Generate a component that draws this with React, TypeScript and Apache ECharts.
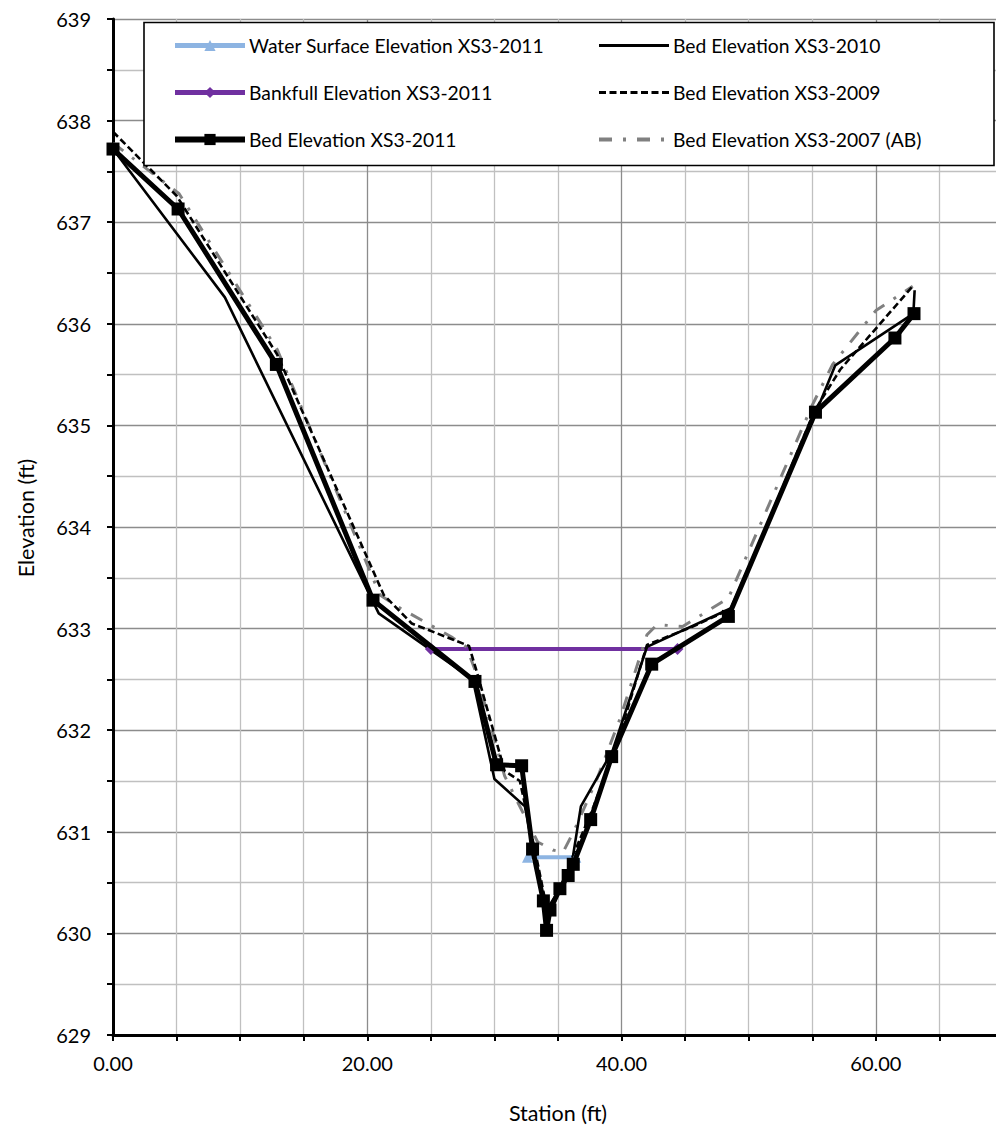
import React, { useEffect, useRef } from "react";
import * as echarts from "echarts";

// ---- data (Station ft, Elevation ft) ----
const bankfullX = [25.0, 44.4];
const bankfullY = [632.8, 632.8];

const waterX = [32.6, 36.4];
const waterY = [630.75, 630.75];

const bed2011X = [0, 5.12, 12.85, 20.45, 28.47, 30.17, 32.14, 33.0, 33.85, 34.1, 34.37, 35.15, 35.8, 36.2, 37.57, 39.22, 42.37, 48.4, 55.25, 61.5, 63.0];
const bed2011Y = [637.72, 637.13, 635.6, 633.28, 632.48, 631.66, 631.65, 630.83, 630.32, 630.03, 630.23, 630.44, 630.57, 630.68, 631.12, 631.74, 632.65, 633.12, 635.13, 635.86, 636.1];

const bed2010X = [0, 8.8, 20.9, 28.3, 30.0, 32.4, 33.0, 33.8, 34.2, 35.2, 36.0, 36.8, 39.3, 42.0, 48.6, 55.2, 56.8, 62.95, 63.05];
const bed2010Y = [637.72, 636.26, 633.15, 632.5, 631.52, 631.25, 630.85, 630.35, 630.25, 630.45, 630.62, 631.25, 631.8, 632.82, 633.2, 635.1, 635.59, 636.1, 636.33];

const bed2009X = [0, 5.0, 12.9, 16.8, 21.3, 23.5, 28.0, 28.6, 30.8, 32.0, 33.3, 34.2, 34.7, 35.5, 36.3, 37.8, 39.6, 42.0, 45.6, 48.7, 55.2, 57.2, 62.9];
const bed2009Y = [637.89, 637.26, 635.7, 634.6, 633.33, 633.05, 632.83, 632.58, 631.6, 631.5, 630.75, 630.2, 630.3, 630.55, 630.8, 631.25, 631.85, 632.84, 633.02, 633.2, 635.15, 635.55, 636.37];

const bed2007X = [0, 5.2, 12.9, 21.0, 22.6, 26.6, 27.8, 28.6, 30.8, 32.4, 33.4, 34.6, 35.4, 36.3, 38.0, 39.9, 42.0, 42.8, 44.8, 48.4, 55.0, 56.6, 60.0, 62.9];
const bed2007Y = [637.78, 637.28, 635.75, 633.33, 633.2, 632.92, 632.82, 632.55, 631.55, 631.15, 630.9, 630.82, 630.8, 631.02, 631.5, 632.12, 632.94, 633.04, 633.02, 633.3, 635.2, 635.6, 636.13, 636.37];

const seriesNames = [
  "Water Surface Elevation XS3-2011",
  "Bankfull Elevation XS3-2011",
  "Bed Elevation XS3-2011",
  "Bed Elevation XS3-2010",
  "Bed Elevation XS3-2009",
  "Bed Elevation XS3-2007 (AB)",
];

const xAxisTitle = "Station (ft)";
const yAxisTitle = "Elevation (ft)";

const zip = (xs: number[], ys: number[]) => xs.map((x, i) => [x, ys[i]]);

const FONT = "Lato";

export default function App() {
  const ref = useRef<HTMLDivElement>(null);

  useEffect(() => {
    if (!ref.current) return;
    const chart = echarts.init(ref.current, undefined, { renderer: "svg" });

    const legendText = { fontFamily: FONT, fontSize: 19.3, color: "#000", padding: [0, 0, 0, -1] };

    const option: any = {
      animation: false,
      backgroundColor: "#ffffff",
      textStyle: { fontFamily: FONT, color: "#000" },
      grid: { left: 113, right: 7, top: 19, bottom: 91, containLabel: false },
      xAxis: {
        type: "value",
        min: 0,
        max: 70,
        interval: 5,
        name: xAxisTitle,
        nameLocation: "middle",
        nameGap: 67,
        nameTextStyle: { fontFamily: FONT, fontSize: 21.5, color: "#000" },
        axisLine: { onZero: false, lineStyle: { color: "#000", width: 3 } },
        axisTick: { show: true, length: 6, lineStyle: { color: "#000", width: 2 } },
        axisLabel: {
          margin: 18,
          fontFamily: FONT,
          fontSize: 20,
          color: "#000",
          formatter: (v: number) => (v % 20 === 0 ? v.toFixed(2) : ""),
        },
        splitLine: {
          show: true,
          lineStyle: { color: ["#8c8c8c", "#c0c0c0", "#c0c0c0", "#c0c0c0"], width: 1.3 },
        },
      },
      yAxis: {
        type: "value",
        min: 629,
        max: 639,
        interval: 0.5,
        name: yAxisTitle,
        nameLocation: "middle",
        nameGap: 76,
        nameTextStyle: { fontFamily: FONT, fontSize: 21.5, color: "#000", padding: [0, 0, 0, 18] },
        axisLine: { show: true, onZero: false, lineStyle: { color: "#000", width: 3 } },
        axisTick: { show: true, length: 6, lineStyle: { color: "#000", width: 2 } },
        axisLabel: {
          margin: 22,
          fontFamily: FONT,
          fontSize: 20,
          color: "#000",
          formatter: (v: number) => (Math.abs(v - Math.round(v)) < 1e-6 ? String(Math.round(v)) : ""),
        },
        splitLine: {
          show: true,
          lineStyle: { color: ["#8c8c8c", "#c0c0c0"], width: 1.3 },
        },
      },
      graphic: [
        {
          type: "rect",
          z: 10,
          shape: { x: 144, y: 22.5, width: 850, height: 143 },
          style: { fill: "#ffffff", stroke: "#000", lineWidth: 1.6 },
          silent: true,
        },
      ],
      legend: [
        {
          orient: "vertical",
          left: 172,
          top: 36,
          padding: 0,
          z: 20,
          itemWidth: 70,
          itemHeight: 14,
          itemGap: 28,
          selectedMode: false,
          textStyle: legendText,
          data: [
            { name: seriesNames[0], lineStyle: { width: 5, cap: "butt" } },
            { name: seriesNames[1], lineStyle: { width: 5, cap: "butt" } },
            { name: seriesNames[2], lineStyle: { width: 6, cap: "butt" } },
          ],
        },
        {
          orient: "vertical",
          left: 597,
          top: 36,
          padding: 0,
          z: 20,
          itemWidth: 70,
          itemHeight: 14,
          itemGap: 28,
          selectedMode: false,
          itemStyle: { opacity: 0 },
          textStyle: legendText,
          data: [
            { name: seriesNames[3], lineStyle: { width: 3, cap: "butt" } },
            { name: seriesNames[4], lineStyle: { width: 3 } },
            { name: seriesNames[5], lineStyle: { width: 4 } },
          ],
        },
      ],
      series: [
        {
          name: seriesNames[1],
          type: "line",
          data: zip(bankfullX, bankfullY),
          symbol: "diamond",
          symbolSize: 12,
          showSymbol: true,
          color: "#7030A0",
          itemStyle: { color: "#7030A0" },
          lineStyle: { color: "#7030A0", width: 4 },
          z: 2,
        },
        {
          name: seriesNames[0],
          type: "line",
          data: zip(waterX, waterY),
          symbol: "triangle",
          symbolSize: 11,
          showSymbol: true,
          color: "#8DB4E2",
          itemStyle: { color: "#8DB4E2" },
          lineStyle: { color: "#8DB4E2", width: 4 },
          z: 2,
        },
        {
          name: seriesNames[5],
          type: "line",
          data: zip(bed2007X, bed2007Y),
          symbol: "none",
          color: "#808080",
          lineStyle: { color: "#808080", width: 3, type: [13, 11, 3, 11] },
          z: 2,
        },
        {
          name: seriesNames[4],
          type: "line",
          data: zip(bed2009X, bed2009Y),
          symbol: "none",
          color: "#000",
          lineStyle: { color: "#000", width: 2.6, type: [7, 3.5] },
          z: 2,
        },
        {
          name: seriesNames[3],
          type: "line",
          data: zip(bed2010X, bed2010Y),
          symbol: "none",
          color: "#000",
          lineStyle: { color: "#000", width: 2.6 },
          z: 2,
        },
        {
          name: seriesNames[2],
          type: "line",
          data: zip(bed2011X, bed2011Y),
          symbol: "rect",
          symbolSize: 13,
          showSymbol: true,
          color: "#000",
          itemStyle: { color: "#000" },
          lineStyle: { color: "#000", width: 5 },
          z: 3,
        },
      ],
    };

    chart.setOption(option);
    return () => chart.dispose();
  }, []);

  return (
    <div
      style={{
        position: "absolute",
        left: 0,
        top: 0,
        width: 996,
        height: 1129,
        overflow: "hidden",
        background: "#fff",
      }}
    >
      <div ref={ref} style={{ width: 1010, height: 1129 }} />
    </div>
  );
}
